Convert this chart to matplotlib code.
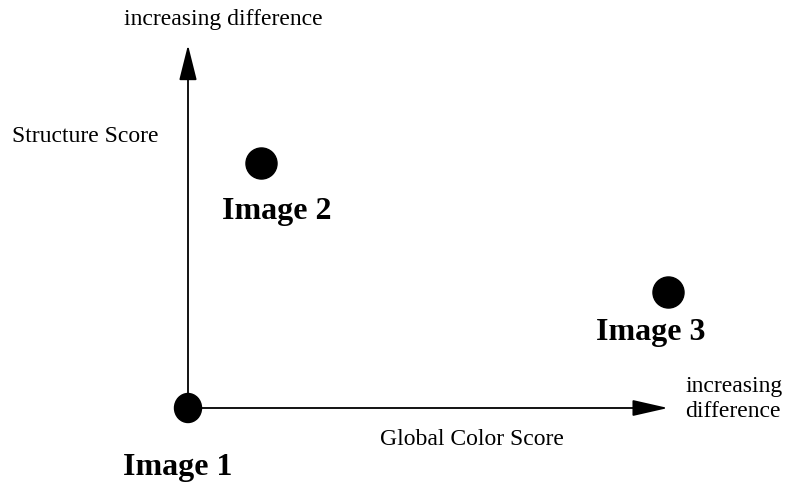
import matplotlib
matplotlib.use("Agg")
import matplotlib.pyplot as plt
from matplotlib.patches import Ellipse

# punkte (pixel-koordinaten des bildes)
namen = ["Image 1", "Image 2", "Image 3"]
px = [188, 261, 668]
py = [408, 163, 292]

ursprung = (188, 408)
y_spitze = 45
x_spitze = 668

plt.rcParams['font.family'] = ['Liberation Serif', 'DejaVu Serif']

fig = plt.figure(figsize=(7.93, 4.82), dpi=100)
ax = fig.add_axes([0, 0, 1, 1])
ax.set_xlim(0, 793)
ax.set_ylim(482, 0)
ax.axis('off')

# achsen-pfeile
ax.annotate("", xy=(ursprung[0], y_spitze), xytext=ursprung,
            arrowprops=dict(arrowstyle="-|>,head_length=2.2,head_width=0.55",
                            color="black", lw=1.3, shrinkA=0, shrinkB=0))
ax.annotate("", xy=(x_spitze, ursprung[1]), xytext=ursprung,
            arrowprops=dict(arrowstyle="-|>,head_length=2.2,head_width=0.5",
                            color="black", lw=1.3, shrinkA=0, shrinkB=0))

# punkte
ax.add_patch(Ellipse((px[0], py[0]), 27, 29, color="black", zorder=3))
ax.scatter(px[1:], py[1:], s=500, color="black", zorder=3)

# beschriftungen
klein = 17
ax.text(124, 25, "increasing difference", fontsize=klein, ha="left", va="baseline")
ax.text(12, 142, "Structure Score", fontsize=klein, ha="left", va="baseline")
ax.text(380, 445, "Global Color Score", fontsize=klein, ha="left", va="baseline")
ax.text(685, 392, "increasing", fontsize=klein, ha="left", va="baseline")
ax.text(685, 417, "difference", fontsize=klein, ha="left", va="baseline")

lab = [(123, 475), (222, 219), (596, 340)]
for n, (lx, ly) in zip(namen, lab):
    ax.text(lx, ly, n, fontsize=23, fontweight="bold", ha="left", va="baseline")

fig.savefig("out.png", dpi=100)
